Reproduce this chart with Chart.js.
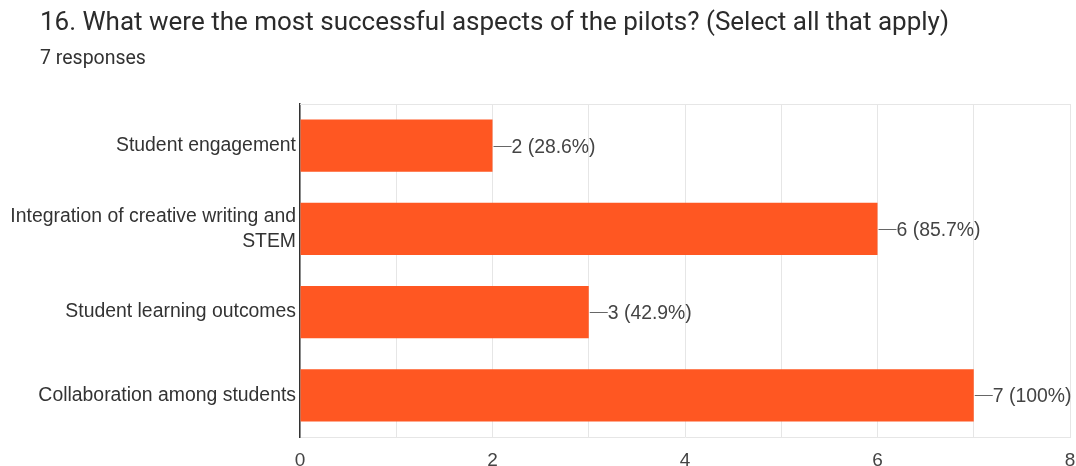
<!DOCTYPE html>
<html>
<head>
<meta charset="utf-8">
<script src="https://cdn.jsdelivr.net/npm/chart.js@4"></script>
<style>
  html, body { margin: 0; padding: 0; background: #fff; }
  #wrap { position: relative; width: 1076px; height: 466px; }
  #title { position: absolute; left: 40px; top: 6px; font: 26px Roboto, sans-serif; color: #2b2b2b; white-space: nowrap; }
  #sub { position: absolute; left: 40px; top: 46px; font: 19.5px Roboto, sans-serif; color: #333; }
  #myChart { position: absolute; left: 0; top: 0; }
</style>
</head>
<body>
<div id="wrap">
  <canvas id="myChart" width="1076" height="466"></canvas>
  <div id="title">16. What were the most successful aspects of the pilots? (Select all that apply)</div>
  <div id="sub">7 responses</div>
</div>
<script>
const categories = [
    'Student engagement',
    ['Integration of creative writing and', 'STEM'],
    'Student learning outcomes',
    'Collaboration among students'
];
const counts = [2, 6, 3, 7]; // answers per option
const total = 7;             // responses
const xTicks = [0, 2, 4, 6, 8];

const FONT = '"Liberation Sans", Arial, sans-serif';

function pct(v) {
    return Number((v / total * 100).toFixed(1)) + '%';
}

// "—2 (28.6%)" callout after each bar
const valueLabels = {
    id: 'valueLabels',
    afterDatasetsDraw(chart) {
        const c = chart.ctx;
        const meta = chart.getDatasetMeta(0);
        c.save();
        c.font = '19.4px ' + FONT;
        c.fillStyle = '#444';
        c.strokeStyle = '#666';
        c.lineWidth = 1;
        c.textBaseline = 'middle';
        meta.data.forEach((bar, i) => {
            const x = bar.x, y = Math.round(bar.y) + 0.5;
            c.beginPath();
            c.moveTo(x + 1, y);
            c.lineTo(x + 19, y);
            c.stroke();
            c.fillText(counts[i] + ' (' + pct(counts[i]) + ')', x + 19, y + 1);
        });
        c.restore();
    }
};

// light frame line on top of the plot
const topLine = {
    id: 'topLine',
    beforeDatasetsDraw(chart) {
        const a = chart.chartArea, c = chart.ctx;
        c.save();
        c.strokeStyle = '#e6e6e6';
        c.beginPath();
        c.moveTo(a.left, a.top + 0.5);
        c.lineTo(a.right, a.top + 0.5);
        c.stroke();
        c.restore();
    }
};

const ctx = document.getElementById('myChart');

new Chart(ctx, {
    type: 'bar',
    data: {
        labels: categories,
        datasets: [{
            data: counts,
            backgroundColor: '#ff5722',
            categoryPercentage: 1,
            barPercentage: 0.63
        }]
    },
    options: {
        indexAxis: 'y',
        responsive: false,
        animation: false,
        layout: { padding: { top: 104, right: 0, left: 0, bottom: 0 } },
        plugins: { legend: { display: false }, tooltip: { enabled: false } },
        scales: {
            x: {
                min: 0, max: 8,
                afterBuildTicks(axis) {
                    axis.ticks = [];
                    for (let v = 0; v <= 8; v++) axis.ticks.push({ value: v });
                },
                afterFit(axis) {
                    axis.height = 29;
                    axis.paddingRight = 6;
                },
                grid: { color: '#e6e6e6', drawTicks: false },
                border: { color: '#e6e6e6' },
                ticks: {
                    padding: 12,
                    color: '#444',
                    font: { family: FONT, size: 19 },
                    maxRotation: 0,
                    autoSkip: false,
                    callback: v => xTicks.includes(v) ? String(v) : ''
                }
            },
            y: {
                afterFit(axis) { axis.width = 300; },
                grid: { display: false, drawTicks: false },
                border: { color: '#333', width: 1.5 },
                ticks: {
                    padding: 4,
                    color: '#333',
                    font: { family: FONT, size: 19.4, lineHeight: 1.3 }
                }
            }
        }
    },
    plugins: [topLine, valueLabels]
});
</script>
</body>
</html>
